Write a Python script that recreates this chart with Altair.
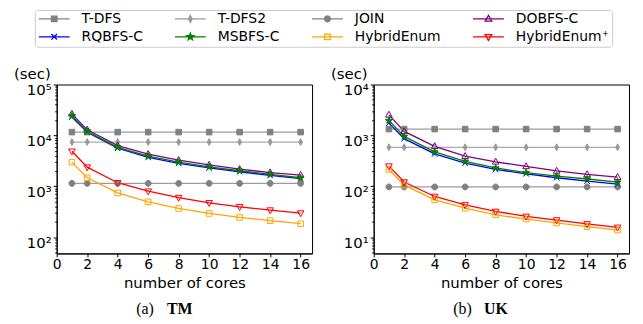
import math
import altair as alt
import pandas as pd

# ---------------- data ----------------
cores = [1, 2, 4, 6, 8, 10, 12, 14, 16]
series_names = ["T-DFS", "T-DFS2", "JOIN", "DOBFS-C",
                "RQBFS-C", "MSBFS-C", "HybridEnum", "HybridEnum⁺"]

tm_tdfs = [11600, 11600, 11600, 11600, 11600, 11600, 11600, 11600, 11600]
tm_tdfs2 = [7400, 7400, 7400, 7400, 7400, 7400, 7400, 7400, 7400]
tm_join = [1140, 1140, 1140, 1140, 1140, 1140, 1140, 1140, 1140]
tm_dobfs = [26500, 12900, 6300, 4270, 3250, 2630, 2170, 1860, 1660]
tm_rqbfs = [22900, 11500, 5600, 3700, 2830, 2290, 1930, 1630, 1410]
tm_msbfs = [24200, 12000, 5840, 3900, 2980, 2410, 2020, 1715, 1470]
tm_hybrid = [2980, 1470, 740, 495, 366, 292, 244, 211, 184]
tm_hybridp = [4880, 2380, 1175, 800, 600, 473, 395, 340, 298]

uk_tdfs = [1330, 1330, 1330, 1330, 1330, 1330, 1330, 1330, 1330]
uk_tdfs2 = [583, 583, 583, 583, 583, 583, 583, 583, 583]
uk_join = [97, 97, 97, 97, 97, 97, 97, 97, 97]
uk_dobfs = [2530, 1200, 611, 390, 302, 246, 200, 171, 151]
uk_rqbfs = [1740, 863, 432, 285, 214, 176, 147, 126, 110]
uk_msbfs = [1960, 955, 473, 310, 229, 186, 158, 139, 121]
uk_hybrid = [214, 105, 54, 37, 27.5, 22.7, 19, 16.1, 13.8]
uk_hybridp = [249, 121, 63, 43, 32, 25.6, 21.7, 18.2, 15.6]

x_ticks = [0, 2, 4, 6, 8, 10, 12, 14, 16]
tm_major = [100, 1000, 10000, 100000]
uk_major = [10, 100, 1000, 10000]

# ---------------- styles ----------------
line_colors = ["#9c9c9c", "#ababab", "#9c9c9c", "#800080",
               "#0000ff", "#008000", "#ffa500", "#ff0000"]
marker_colors = ["#808080", "#9a9a9a", "#808080", "#800080",
                 "#0000ff", "#008000", "#ffa500", "#ff0000"]
fill_colors = ["#808080", "#9a9a9a", "#808080", "transparent",
               "transparent", "#008000", "transparent", "transparent"]


def poly(pts):
    return "M" + "L".join(f"{x:.3f},{y:.3f}" for x, y in pts) + "Z"


def m_square(k):
    a = 0.8 * k
    return poly([(-a, -a), (a, -a), (a, a), (-a, a)])


def m_circle(k):
    r = 0.85 * k
    return poly([(r * math.cos(2 * math.pi * i / 20), r * math.sin(2 * math.pi * i / 20)) for i in range(20)])


def m_thin_diamond(k):
    return poly([(0, -1.0 * k), (0.55 * k, 0), (0, 1.0 * k), (-0.55 * k, 0)])


def m_tri_up(k):
    return poly([(0, -1.05 * k), (0.95 * k, 0.65 * k), (-0.95 * k, 0.65 * k)])


def m_tri_down(k):
    return poly([(0, 1.05 * k), (0.95 * k, -0.65 * k), (-0.95 * k, -0.65 * k)])


def m_x(k):
    a = 0.8 * k
    return f"M{-a:.3f},{-a:.3f}L{a:.3f},{a:.3f}M{-a:.3f},{a:.3f}L{a:.3f},{-a:.3f}"


def m_star(k):
    pts = []
    for i in range(10):
        r = (1.05 if i % 2 == 0 else 0.42) * k
        t = -math.pi / 2 + i * math.pi / 5
        pts.append((r * math.cos(t), r * math.sin(t)))
    return poly(pts)


marker_funcs = [m_square, m_thin_diamond, m_circle, m_tri_up,
                m_x, m_star, m_square, m_tri_down]
POINT_SIZE = 49          # unit = 3.5 px
LEG_SIZE = 961           # unit = 15.5 px
k_leg = 3.5 / 15.5
plot_shapes = [f(1.0) for f in marker_funcs]
legend_shapes = ["M-1,0L1,0" + f(k_leg) for f in marker_funcs]


def long_df(cols):
    rows = []
    for name, vals in zip(series_names, cols):
        for c, v in zip(cores, vals):
            rows.append({"series": name, "cores": c, "time": v})
    return pd.DataFrame(rows)


tm_df = long_df([tm_tdfs, tm_tdfs2, tm_join, tm_dobfs, tm_rqbfs, tm_msbfs, tm_hybrid, tm_hybridp])
uk_df = long_df([uk_tdfs, uk_tdfs2, uk_join, uk_dobfs, uk_rqbfs, uk_msbfs, uk_hybrid, uk_hybridp])

W, H = 257, 170
SUP = {1: "¹", 2: "²", 3: "³", 4: "⁴", 5: "⁵"}


def minor_vals(lo, hi):
    out = []
    e = math.floor(math.log10(lo))
    while 10 ** e <= hi:
        for m in range(2, 10):
            v = m * 10 ** e
            if lo <= v <= hi:
                out.append(v)
        e += 1
    return out


def panel(df, ydom, major, tag, name, with_legend):
    label_expr = " : ".join(
        f"datum.value == {v} ? '10{SUP[int(round(math.log10(v)))]}'" for v in major) + " : ''"
    xs = alt.Scale(domain=[0, 16.75], nice=False, zero=False)
    xaxis = alt.Axis(values=x_ticks, title="number of cores", labelFlush=False,
                     labelPadding=1, titlePadding=4)
    ys = alt.Scale(type="log", domain=ydom, nice=False)
    major_axis = alt.Axis(values=major, labelExpr=label_expr, title=None, orient="left",
                          labelPadding=2, labelOffset=5, labelFontSize=15, labelFlush=False)
    minor_axis = alt.Axis(values=minor_vals(ydom[0], ydom[1]), labels=False, title=None,
                          tickSize=2, domain=False, orient="left")
    base = alt.Chart(df)
    lines = base.mark_line(strokeWidth=1.3).encode(
        x=alt.X("cores:Q", scale=xs, axis=xaxis),
        y=alt.Y("time:Q", scale=ys, axis=major_axis),
        stroke=alt.Stroke("series:N", scale=alt.Scale(domain=series_names, range=line_colors), legend=None),
    )
    pts = base.mark_point(size=POINT_SIZE, strokeWidth=1, opacity=1).encode(
        x=alt.X("cores:Q", scale=xs, axis=xaxis),
        y=alt.Y("time:Q", scale=ys, axis=minor_axis),
        shape=alt.Shape("series:N", scale=alt.Scale(domain=series_names, range=plot_shapes), legend=None),
        stroke=alt.Stroke("series:N", scale=alt.Scale(domain=series_names, range=marker_colors), legend=None),
        fill=alt.Fill("series:N", scale=alt.Scale(domain=series_names, range=fill_colors), legend=None),
    )
    sec = alt.Chart(pd.DataFrame({"t": ["(sec)"]})).mark_text(
        align="left", baseline="middle", font="DejaVu Sans", fontSize=15, color="black"
    ).encode(x=alt.value(-43), y=alt.value(-11), text="t:N")
    cap1 = alt.Chart(pd.DataFrame({"t": [tag]})).mark_text(
        align="left", baseline="middle", font="Liberation Serif", fontSize=16, color="black"
    ).encode(x=alt.value(80), y=alt.value(226), text="t:N")
    cap2 = alt.Chart(pd.DataFrame({"t": [name]})).mark_text(
        align="left", baseline="middle", font="Liberation Serif", fontSize=16, fontWeight="bold", color="black"
    ).encode(x=alt.value(111), y=alt.value(226), text="t:N")
    layers = [lines, pts, sec, cap1, cap2]
    if with_legend:
        leg = alt.Legend(title=None, orient="none", legendX=-22, legendY=-75, columns=4,
                         direction="horizontal", symbolSize=LEG_SIZE, symbolStrokeWidth=1.3,
                         labelFont="DejaVu Sans", labelFontSize=14, labelColor="black",
                         labelOffset=11, labelLimit=300, columnPadding=31, rowPadding=4,
                         padding=3, clipHeight=12, strokeColor="#cccccc", fillColor="white",
                         cornerRadius=3, gridAlign="each")
        legend_layer = base.transform_filter("datum.cores < 0").mark_point(
            size=LEG_SIZE, strokeWidth=1.3, opacity=1).encode(
            x=alt.X("cores:Q", scale=xs, axis=xaxis),
            y=alt.Y("time:Q", scale=ys, axis=None),
            shape=alt.Shape("series:N", scale=alt.Scale(domain=series_names, range=legend_shapes), legend=leg),
            stroke=alt.Stroke("series:N", scale=alt.Scale(domain=series_names, range=marker_colors), legend=leg),
            fill=alt.Fill("series:N", scale=alt.Scale(domain=series_names, range=fill_colors), legend=leg),
        )
        layers.append(legend_layer)
    return alt.layer(*layers).resolve_scale(
        stroke="independent", fill="independent", shape="independent"
    ).resolve_axis(y="independent").properties(width=W, height=H)


left = panel(tm_df, [47.9, 100000], tm_major, "(a)", "TM", True)
right = panel(uk_df, [4.79, 10000], uk_major, "(b)", "UK", False)

chart = alt.hconcat(left, right, spacing=62, bounds="flush").resolve_scale(
    x="independent", y="independent", stroke="independent", fill="independent", shape="independent"
).properties(
    padding={"left": 5, "top": 0, "right": 5, "bottom": 0}
).configure_view(
    stroke="black", strokeWidth=1
).configure_axis(
    grid=False, labelFont="DejaVu Sans", labelFontSize=14, labelColor="black",
    tickColor="black", domainColor="black", tickSize=3.5, tickWidth=1,
    titleFont="DejaVu Sans", titleFontSize=15, titleFontWeight="normal", titleColor="black"
)

chart.save("out.html", embed_options={"renderer": "svg", "actions": False})
